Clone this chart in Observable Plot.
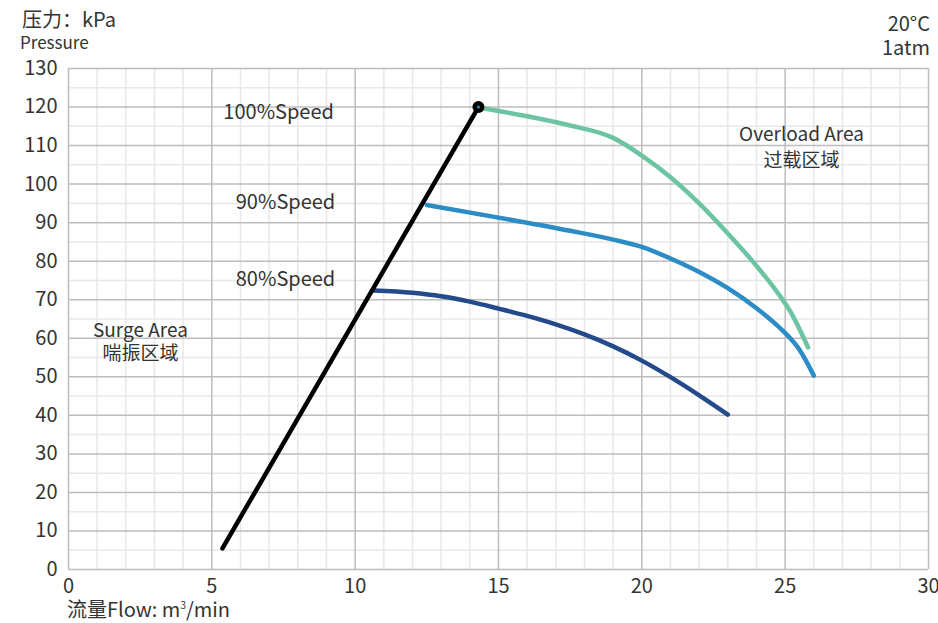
<!DOCTYPE html>
<html>
<head>
<meta charset="utf-8">
<script src="https://cdn.jsdelivr.net/npm/d3@7"></script>
<script src="https://cdn.jsdelivr.net/npm/@observablehq/plot@0.6"></script>
<style>
  html, body { margin: 0; padding: 0; background: #fff; }
  #wrap { position: relative; width: 938px; height: 623px; font-family: "Noto Sans CJK SC", "Noto Sans", sans-serif; color: #333; }
  .lbl { position: absolute; white-space: nowrap; line-height: 1; }
</style>
</head>
<body>
<div id="wrap">
  <div class="lbl" style="left:22px; top:9px; font-size:20px;">压力：kPa</div>
  <div class="lbl" style="left:20px; top:33px; font-size:17px;">Pressure</div>
  <div class="lbl" style="right:8px; top:13px; font-size:20px; text-align:right;">20°C</div>
  <div class="lbl" style="right:8px; top:37px; font-size:20px; text-align:right;">1atm</div>
  <div class="lbl" style="left:67px; top:599px; font-size:20px;">流量Flow: m<sup style="font-size:10px; line-height:0;">3</sup>/min</div>
</div>
<script>
// Tick values
const xTicks = [0, 5, 10, 15, 20, 25, 30];
const yTicks = [0, 10, 20, 30, 40, 50, 60, 70, 80, 90, 100, 110, 120, 130];

// Surge line (black)
const surgeX = [5.37, 14.3];
const surgeY = [5.5, 120];

// 100% speed curve (green)
const speed100X = [14.5, 16, 17.5, 19, 20, 21, 22, 23, 24, 24.6, 25.2, 25.8];
const speed100Y = [119.6, 117.6, 115.2, 112, 107.4, 101.8, 95, 87.2, 78.8, 73.2, 66.7, 57.6];

// 90% speed curve (blue)
const speed90X = [12.5, 15, 17.5, 19, 20, 21, 22, 23, 24, 24.8, 25.5, 26];
const speed90Y = [94.6, 91.3, 87.9, 85.6, 83.7, 80.7, 77.2, 73, 67.8, 62.8, 57, 50.3];

// 80% speed curve (navy)
const speed80X = [10.64, 12, 13, 14, 15, 16, 17, 18, 19, 20, 21, 22, 23];
const speed80Y = [72.4, 71.8, 70.9, 69.5, 67.7, 65.8, 63.6, 61, 57.9, 54.2, 49.9, 45.2, 40.2];

// Text annotations (data coordinates)
const annoText = ["100%Speed", "90%Speed", "80%Speed", "Overload Area", "过载区域", "Surge Area", "喘振区域"];
const annoX = [7.33, 7.57, 7.57, 25.57, 25.57, 2.51, 2.51];
const annoY = [118.5, 95.2, 75.2, 112.8, 106.1, 62, 56];
const annoSize = [20, 20, 20, 19, 19, 19, 19];

const zip = (xs, ys) => xs.map((x, i) => ({x, y: ys[i]}));
const surge = zip(surgeX, surgeY);
const c100 = zip(speed100X, speed100Y);
const c90 = zip(speed90X, speed90Y);
const c80 = zip(speed80X, speed80Y);
const annos = annoText.map((t, i) => ({t, x: annoX[i], y: annoY[i], s: annoSize[i]}));

const minorX = d3.range(0, 31, 1).filter(v => v % 5 !== 0);
const minorY = d3.range(5, 130, 10);

const chart = Plot.plot({
  width: 938,
  height: 623,
  marginLeft: 68,
  marginRight: 10,
  marginTop: 68,
  marginBottom: 54,
  x: {domain: [0, 30]},
  y: {domain: [0, 130]},
  style: {fontFamily: '"Noto Sans CJK SC", "Noto Sans", sans-serif', fontSize: "20px", color: "#333", background: "transparent", overflow: "visible"},
  marks: [
    Plot.ruleX(minorX, {stroke: "#e8e8e8", strokeWidth: 1.5}),
    Plot.ruleY(minorY, {stroke: "#e8e8e8", strokeWidth: 1.5}),
    Plot.ruleX(xTicks, {stroke: "#bdbdbd", strokeWidth: 1.5}),
    Plot.ruleY(yTicks, {stroke: "#bdbdbd", strokeWidth: 1.5}),
    Plot.axisX({ticks: xTicks, tickSize: 0, tickPadding: 9, label: null, fontSize: 20, fill: "#333"}),
    Plot.axisY({ticks: yTicks, tickSize: 0, tickPadding: 11, label: null, fontSize: 20, fill: "#333"}),
    Plot.text(annos.filter(d => d.s === 20), {x: "x", y: "y", text: "t", fontSize: 20, fill: "#333"}),
    Plot.text(annos.filter(d => d.s === 19), {x: "x", y: "y", text: "t", fontSize: 19, fill: "#333"}),
    Plot.line(c80, {x: "x", y: "y", stroke: "#234a8a", strokeWidth: 4.5, curve: "monotone-x"}),
    Plot.line(c90, {x: "x", y: "y", stroke: "#2b8cc6", strokeWidth: 4.5, curve: "monotone-x"}),
    Plot.line(c100, {x: "x", y: "y", stroke: "#6dc4a2", strokeWidth: 4.5, curve: "monotone-x"}),
    Plot.line(surge, {x: "x", y: "y", stroke: "#000", strokeWidth: 4.5}),
    Plot.dot([surge[1]], {x: "x", y: "y", r: 6, fill: "#000"}),
    Plot.dot([surge[1]], {x: "x", y: "y", r: 1.5, fill: "#2b8cc6"})
  ]
});
chart.style.position = "absolute";
chart.style.left = "0px";
chart.style.top = "0px";
document.getElementById("wrap").prepend(chart);
</script>
</body>
</html>
